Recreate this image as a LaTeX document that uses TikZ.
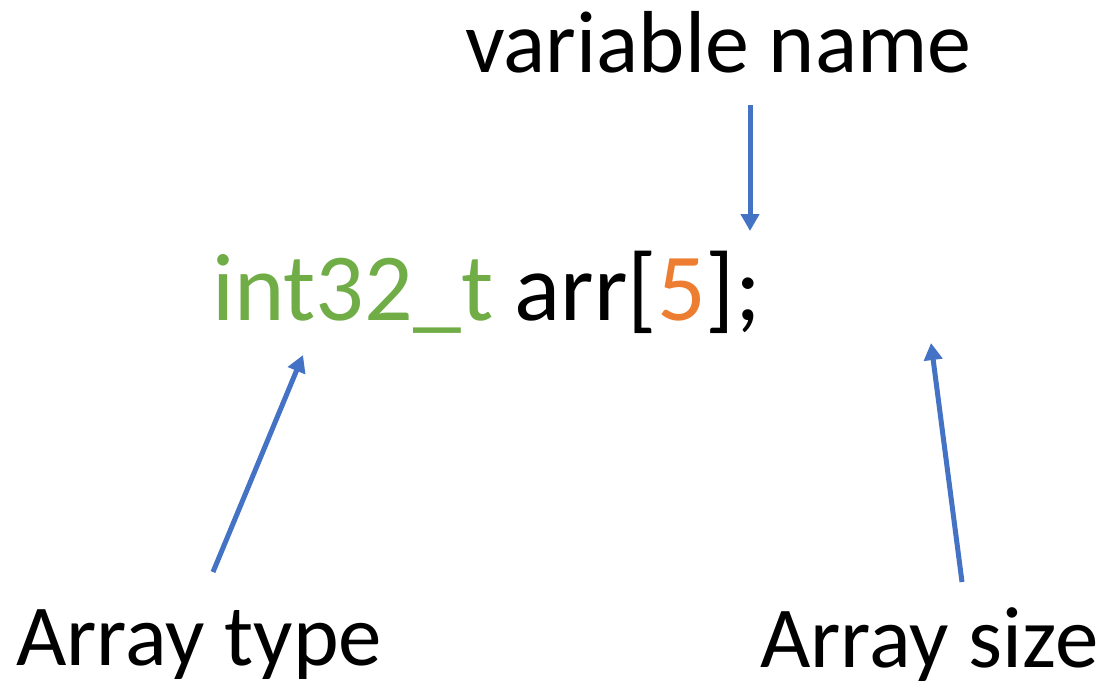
\documentclass[tikz,border=0pt]{standalone}
\usepackage{fontspec}
\setmainfont{Carlito}
\usetikzlibrary{arrows.meta}
\definecolor{pointer}{HTML}{4472C4}
\definecolor{typegreen}{HTML}{70AD47}
\definecolor{sizeorange}{HTML}{ED7D31}
\tikzset{
  label text/.style={inner sep=0pt, anchor=base west, font=\fontsize{87}{100}\selectfont},
  code text/.style={inner sep=0pt, anchor=base west, font=\fontsize{96}{110}\selectfont},
  pointer arrow/.style={draw=pointer, line width=5pt,
    -{Triangle[width=18pt,length=17pt]}}
}
\begin{document}
\begin{tikzpicture}[x=1pt,y=-1pt]
  \useasboundingbox[fill=white] (0,0) rectangle (1105,688);
  % captions and the declaration
  \node[label text, font=\fontsize{88}{100}\selectfont] (varname) at (465,72) {variable name};
  \node[code text] (decl) at (212,320) {\textcolor{typegreen}{int32\_t} arr[\textcolor{sizeorange}{5}];};
  \node[label text] (atype) at (16,665) {Array type};
  \node[label text] (asize) at (760,667) {Array size};
  % arrow end points
  \coordinate (nameTail) at (750,105);
  \coordinate (nameTip) at (750,231);
  \coordinate (typeTail) at (213,572);
  \coordinate (typeTip) at (303,355);
  \coordinate (sizeTail) at (962,582);
  \coordinate (sizeTip) at (931,343);
  % pointers
  \draw[pointer arrow] (nameTail) -- (nameTip);
  \draw[pointer arrow] (typeTail) -- (typeTip);
  \draw[pointer arrow] (sizeTail) -- (sizeTip);
\end{tikzpicture}
\end{document}
